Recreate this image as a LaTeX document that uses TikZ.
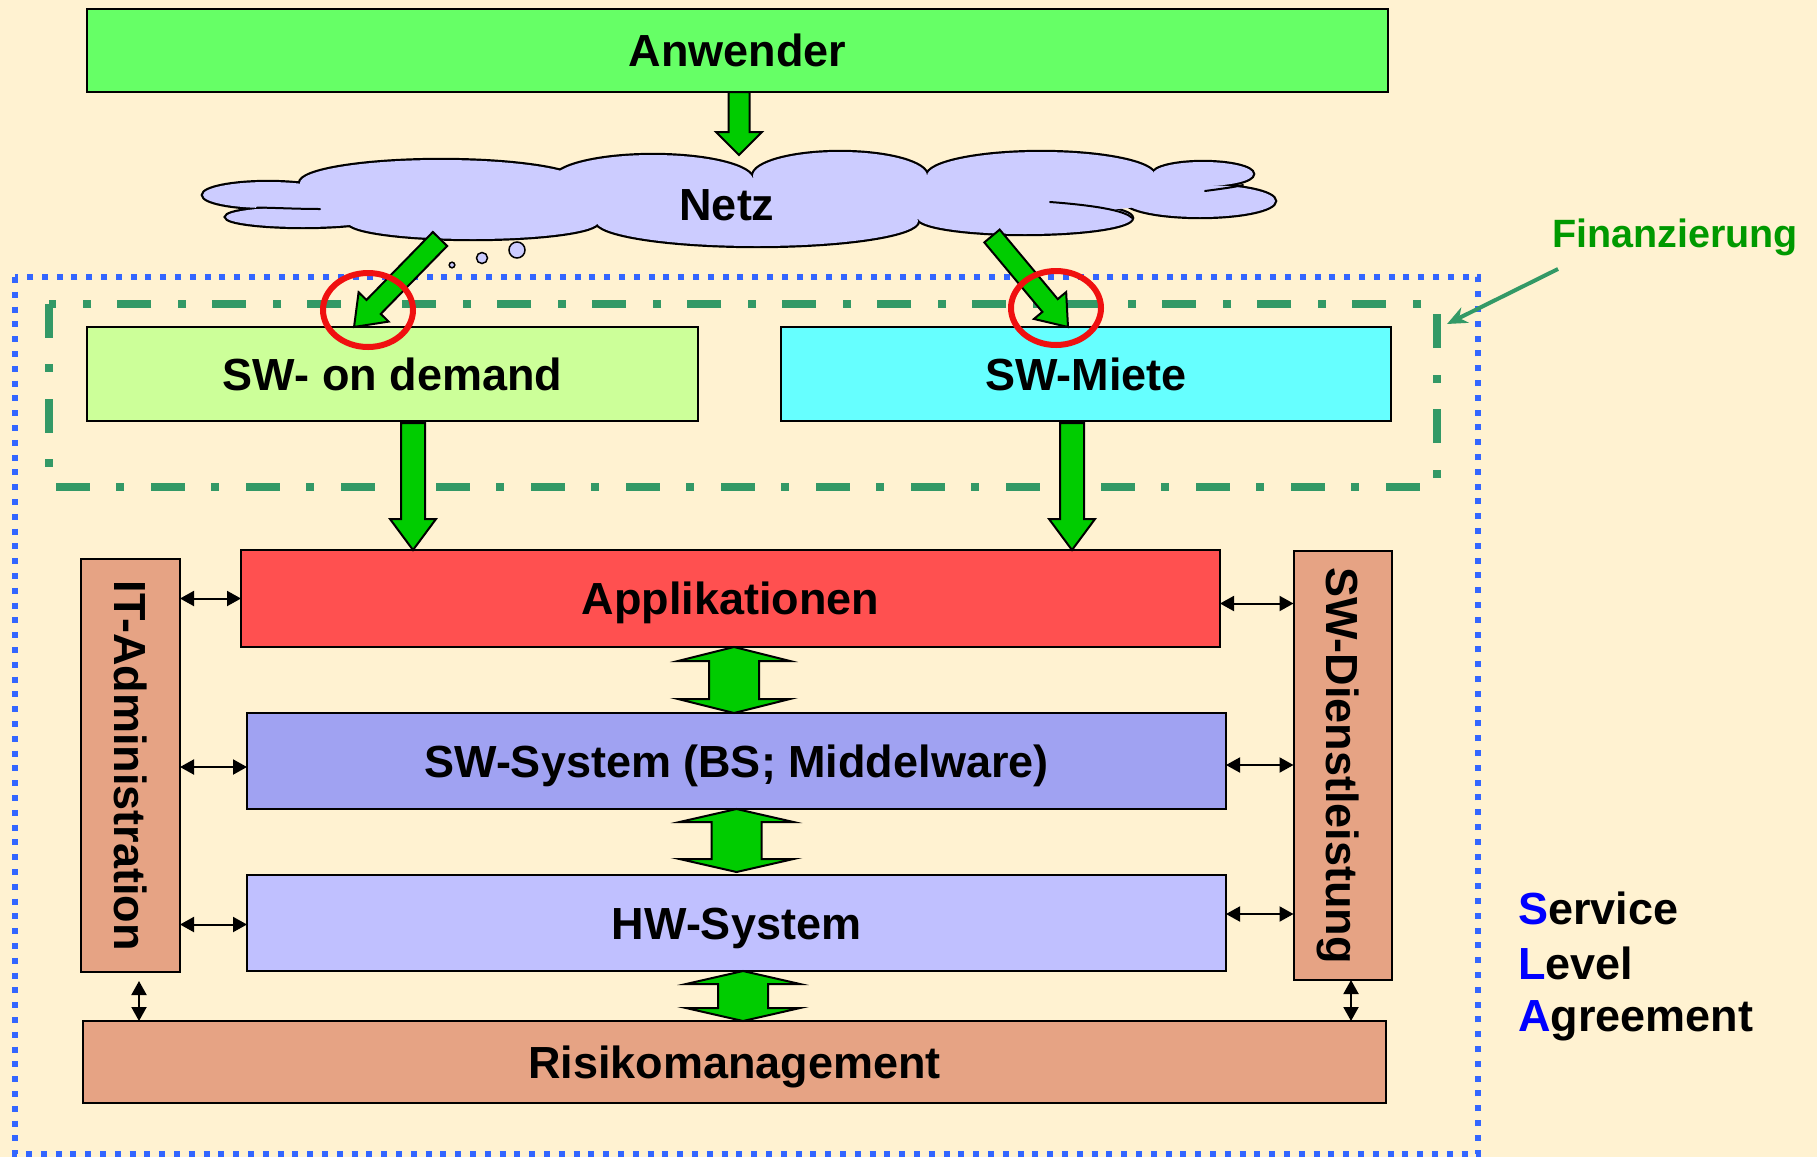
\documentclass[tikz,border=0pt]{standalone}
\usepackage{fontspec}
\setmainfont{Liberation Sans}
\usetikzlibrary{calc,arrows.meta}

\definecolor{paper}{HTML}{FFF2D1}
\definecolor{usergreen}{HTML}{66FF66}
\definecolor{arrowgreen}{HTML}{00CC00}
\definecolor{cloudblue}{HTML}{CCCCFF}
\definecolor{demandgreen}{HTML}{CCFF99}
\definecolor{rentcyan}{HTML}{66FFFF}
\definecolor{appred}{HTML}{FF5050}
\definecolor{swblue}{HTML}{A0A2F2}
\definecolor{hwblue}{HTML}{C0C0FF}
\definecolor{salmon}{HTML}{E6A384}
\definecolor{slablue}{HTML}{3366FF}
\definecolor{finframe}{HTML}{339966}
\definecolor{fintext}{HTML}{009900}
\definecolor{mark}{HTML}{F01010}

% direction and length of the segment from #1 to #2
\newcommand\segmentdata[2]{%
  \path let \p1=(#1), \p2=(#2) in \pgfextra{%
    \pgfmathsetmacro\tmpang{atan2(\y2-\y1,\x2-\x1)}%
    \pgfmathsetmacro\tmplen{veclen(\x2-\x1,\y2-\y1)}%
    \pgfmathsetmacro\tmpx{\x1}%
    \pgfmathsetmacro\tmpy{\y1}%
    \global\let\SDang\tmpang \global\let\SDlen\tmplen
    \global\let\SDx\tmpx \global\let\SDy\tmpy};}

% outlined block arrow: start, tip, shaft half width, head half width, head length
\newcommand\blockarrow[5]{%
  \segmentdata{#1}{#2}%
  \begin{scope}[shift={(\SDx pt,\SDy pt)}, rotate=\SDang, x=1pt, y=1pt]
    \draw[blockarr] (0,-#3) -- (\SDlen-#5,-#3) -- (\SDlen-#5,-#4) -- (\SDlen,0)
      -- (\SDlen-#5,#4) -- (\SDlen-#5,#3) -- (0,#3) -- cycle;
  \end{scope}}

% outlined block arrow with heads at both ends
\newcommand\doubleblockarrow[5]{%
  \segmentdata{#1}{#2}%
  \begin{scope}[shift={(\SDx pt,\SDy pt)}, rotate=\SDang, x=1pt, y=1pt]
    \draw[blockarr] (0,0) -- (#5,#4) -- (#5,#3) -- (\SDlen-#5,#3) -- (\SDlen-#5,#4)
      -- (\SDlen,0) -- (\SDlen-#5,-#4) -- (\SDlen-#5,-#3) -- (#5,-#3) -- (#5,-#4) -- cycle;
  \end{scope}}

\tikzset{
  bigfont/.style={font=\bfseries\fontsize{45}{54}\selectfont},
  box/.style={draw=black, line width=2pt, inner sep=0pt, outer sep=0pt,
    text height=32pt, text depth=0pt, bigfont},
  blockarr/.style={draw=black, line width=2pt, fill=arrowgreen, line join=miter},
  thinarrow/.style={draw=black, line width=2pt,
    {Triangle[length=14pt,width=15pt]}-{Triangle[length=14pt,width=15pt]}},
  slaframe/.style={draw=slablue, line width=6pt, dash pattern=on 6pt off 8.8pt},
  finframe/.style={draw=finframe, line width=8pt, dash pattern=on 34pt off 26pt on 8pt off 27pt},
  ring/.style={draw=mark, line width=6pt},
  fold/.style={draw=black, line width=2pt, line cap=round},
}

\begin{document}
\begin{tikzpicture}[x=1pt, y=-1pt]
  % canvas
  \fill[paper] (0,0) rectangle (1817,1157);
  \useasboundingbox (0,0) rectangle (1817,1157);

  % service level and financing frames
  \draw[slaframe] (15,277) rectangle (1478,1154);
  \draw[finframe] (49,304) rectangle (1437,487);

  % boxes
  \node[box, fill=usergreen, minimum width=1301pt, minimum height=83pt] (anw) at (737.5,50.5) {Anwender};
  \node[box, fill=demandgreen, minimum width=611pt, minimum height=94pt] (sod) at (392.5,374) {SW- on demand};
  \node[box, fill=rentcyan, minimum width=610pt, minimum height=94pt] (swm) at (1086,374) {SW-Miete};
  \node[box, fill=appred, minimum width=979pt, minimum height=97pt] (app) at (730.5,598.5) {Applikationen};
  \node[box, fill=swblue, minimum width=979pt, minimum height=96pt] (sws) at (736.5,761) {SW-System (BS; Middelware)};
  \node[box, fill=hwblue, minimum width=979pt, minimum height=96pt] (hws) at (736.5,923) {HW-System};
  \node[box, fill=salmon, minimum width=1303pt, minimum height=82pt] (risk) at (734.5,1062) {Risikomanagement};
  \node[box, fill=salmon, rotate=-90, minimum width=413pt, minimum height=99pt] (itadm) at (130.5,765.5) {IT-Administration};
  \node[box, fill=salmon, rotate=-90, minimum width=429pt, minimum height=98pt] (swd) at (1342.5,765.5) {SW-Dienstleistung};

  % network cloud: outline pass, then fill pass
  \def\lobes{268/195/65/13, 303/217/77/10, 441/183/141/23, 473/222/125/17,
    653/180/100/25, 840/176/87/24, 1041/176/114/24, 1203/174/50/12,
    1200/201/75/16, 1025/218/107/16, 757/221/161/25}
  \foreach \cx/\cy/\rx/\ry in \lobes
    \draw[black, line width=4.4pt] (\cx,\cy) ellipse [x radius=\rx, y radius=\ry];
  \foreach \cx/\cy/\rx/\ry in \lobes
    \fill[cloudblue] (\cx,\cy) ellipse [x radius=\rx, y radius=\ry];
  \fill[cloudblue] (268,195) -- (303,217) -- (473,222) -- (757,221) -- (1025,218)
    -- (1200,201) -- (1203,174) -- (1041,176) -- (840,176) -- (653,180) -- (441,183) -- cycle;
  % inner fold lines of the cloud
  \draw[fold] (257,207.5) .. controls (280,208) and (300,209) .. (320,209);
  \draw[fold] (1050,202) .. controls (1090,205) and (1125,210) .. (1132,218);
  \draw[fold] (1205,191) .. controls (1220,189) and (1235,187) .. (1243,185);
  \node[bigfont] (netz) at (727,205) {Netz};
  % thought bubbles
  \draw[black, line width=1.5pt, fill=cloudblue] (517,250) circle [radius=8];
  \draw[black, line width=1.5pt, fill=cloudblue] (482,258) circle [radius=5.5];
  \draw[black, line width=1.5pt, fill=cloudblue] (452,265) circle [radius=2.8];

  % anchor points of the arrows at the cloud
  \coordinate (cloudtop) at (739,155);
  \coordinate (cloudL) at (440,239);
  \coordinate (cloudR) at (992,236);

  % green block arrows
  \blockarrow{[xshift=1.5pt]anw.south}{cloudtop}{10.5}{23}{23}
  \blockarrow{cloudL}{[xshift=267pt]sod.north west}{10}{21}{28}
  \blockarrow{cloudR}{[xshift=287pt]swm.north west}{10}{21}{28}
  \blockarrow{[xshift=326pt,yshift=-2pt]sod.south west}{[xshift=172pt]app.north west}{12}{23}{31}
  \blockarrow{[xshift=291pt,yshift=-2pt]swm.south west}{[xshift=831pt]app.north west}{12}{23}{31}
  \doubleblockarrow{[xshift=3.5pt]app.south}{[xshift=-2.5pt]sws.north}{25}{56}{14}
  \doubleblockarrow{sws.south}{[yshift=3pt]hws.north}{25}{57}{13}
  \doubleblockarrow{[xshift=6.5pt]hws.south}{[xshift=8.5pt]risk.north}{25}{57}{13}

  % markings at the arrow tips
  \draw[ring] (368,310) ellipse [x radius=45, y radius=37];
  \draw[ring] (1056,308) ellipse [x radius=45, y radius=37];

  % links to administration and services
  \draw[thinarrow] (app.west -| itadm.north) -- (app.west);
  \draw[thinarrow] ([yshift=-6pt]sws.west -| itadm.north) -- ([yshift=-6pt]sws.west);
  \draw[thinarrow] ([yshift=-1.5pt]hws.west -| itadm.north) -- ([yshift=-1.5pt]hws.west);
  \draw[thinarrow] ([yshift=-5pt]app.east) -- ([yshift=-5pt]app.east -| swd.south);
  \draw[thinarrow] ([yshift=-4pt]sws.east) -- ([yshift=-4pt]sws.east -| swd.south);
  \draw[thinarrow] ([yshift=9pt]hws.east) -- ([yshift=9pt]hws.east -| swd.south);
  \coordinate (itfoot) at ([xshift=8.5pt,yshift=-9pt]itadm.east);
  \coordinate (swdfoot) at ([xshift=8.5pt]swd.east);
  \draw[thinarrow] (itfoot) -- (itfoot |- risk.north);
  \draw[thinarrow] (swdfoot) -- (swdfoot |- risk.north);

  % financing label
  \node[font=\bfseries\fontsize{39.5}{47}\selectfont, text=fintext] (fin) at (1675,237) {Finanzierung};
  \coordinate (finstart) at (1558,269);
  \coordinate (fintip) at (1447,324);
  \draw[draw=finframe, line width=4pt, -{Stealth[length=20pt,width=17pt]}] (finstart) -- (fintip);

  % service level agreement
  \node[bigfont, anchor=base west] (sla1) at (1514.5,924) {\textcolor{blue}{S}ervice};
  \node[bigfont, anchor=base west] (sla2) at (1514.5,979) {\textcolor{blue}{L}evel};
  \node[bigfont, anchor=base west] (sla3) at (1514.5,1031) {\textcolor{blue}{A}greement};
\end{tikzpicture}
\end{document}
